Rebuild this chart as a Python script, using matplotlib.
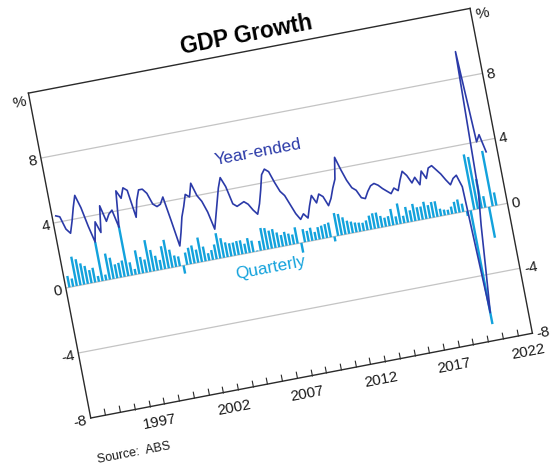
import numpy as np
import matplotlib
matplotlib.use("Agg")
import matplotlib.pyplot as plt
from matplotlib.transforms import Affine2D
import mpl_toolkits.axisartist.floating_axes as floating_axes
from mpl_toolkits.axisartist.grid_finder import FixedLocator

plt.rcParams['font.family'] = ['Liberation Sans', 'DejaVu Sans']

# ---------------- data ----------------
start_year = 1993  # first observation = March quarter 1993
quarterly = [
    0.7, 0.5, 1.8, 1.6,      # 1993
    1.3, 1.1, 0.8, 0.9,      # 1994
    0.35, 2.4, 0.35, 1.6,    # 1995
    1.3, 0.85, 0.9, 1.0,     # 1996
    3.1, 0.8, 0.35, 1.45,    # 1997
    1.0, 0.8, 1.95, 1.3,     # 1998
    0.9, 0.6, 1.4, 1.75,     # 1999
    1.1, 0.7, 0.6, -0.5,     # 2000
    0.75, 1.0, 1.1, 0.8,     # 2001
    1.5, 0.9, 0.45, 0.6,     # 2002
    0.9, 1.55, 1.2, 0.9,     # 2003
    0.8, 0.8, 0.85, 0.85,    # 2004
    0.6, 0.9, 0.7, 0.05,     # 2005
    0.6, 1.35, 1.3, 1.1,     # 2006
    1.15, 0.9, 0.7, 0.85,    # 2007
    0.7, 0.6, 1.0, -0.6,     # 2008
    0.8, 0.65, 0.8, 0.5,     # 2009
    0.75, 0.8, 0.85, 0.9,    # 2010
    -0.3, 1.4, 1.3, 1.05,    # 2011
    0.8, 0.7, 0.6, 0.55,     # 2012
    0.5, 0.6, 0.85, 0.95,    # 2013
    0.95, 0.7, 0.55, 0.6,    # 2014
    1.0, 0.5, 1.25, 0.45,    # 2015
    0.95, 0.7, 1.05, 0.8,    # 2016
    0.8, 1.05, 0.8, 0.95,    # 2017
    0.95, 0.45, 0.35, 0.3,   # 2018
    0.45, 0.7, 0.8, 0.5,     # 2019
    -0.3, -7.0, 3.4, 3.2,    # 2020
    1.8, 0.7, -1.9, 3.4,     # 2021
    0.8,                     # 2022
]
year_ended = [
    4.4, 4.3, 3.5, 3.2,
    3.9, 4.7, 5.4, 4.6,
    3.4, 2.4, 3.6, 2.9,
    4.5, 3.5, 3.9, 4.1,
    3.0, 5.2, 4.7, 5.3,
    5.1, 3.4, 4.4, 5.0,
    5.0, 4.7, 4.0, 3.8,
    3.9, 4.3, 2.8, 1.2,
    2.0, 2.9, 3.5, 4.2,
    4.0, 4.8, 4.0, 3.6,
    2.9, 1.8, 2.6, 3.4,
    4.2, 4.8, 4.2, 3.1,
    2.9, 3.0, 3.1, 2.9,
    2.5, 2.2, 2.8, 3.6,
    4.5, 4.8, 4.6, 3.9,
    3.3, 3.0, 2.4, 1.8,
    1.4, 1.7, 1.4, 2.1,
    2.7, 2.2, 2.7, 2.5,
    1.9, 2.3, 2.9, 3.4,
    4.7, 3.9, 3.2, 2.7,
    2.5, 2.0, 1.9, 2.3,
    2.6, 2.7, 2.55, 2.3,
    2.1, 1.9, 2.2, 2.0,
    2.6, 3.1, 2.8, 2.3,
    2.6, 2.1, 2.9, 2.4,
    3.0, 3.1, 2.8, 2.5,
    2.1, 1.75, 2.1, 2.25,
    1.5, -6.3, -3.7, -1.0,
    1.1, 9.6, 4.0, 4.4,
    3.3,
]
x_range = (1993, 2023)
y_range = (-8, 12)
x_tick_years = list(range(1994, 2023))
x_label_years = [1997, 2002, 2007, 2012, 2017, 2022]
y_ticks = [-8, -4, 0, 4, 8]
y_unit = '%'
title = 'GDP Growth'
series_names = ['Year-ended', 'Quarterly']
source = 'Source:  ABS'

# ---------------- styling / layout ----------------
C_YE = '#2b3aa8'
C_Q = '#13a2dc'
ANGLE = 10.86
XS, YS = 14.99, 16.54
W, H = 554, 470

fig = plt.figure(figsize=(W / 100, H / 100), dpi=100, facecolor='white')
tr = Affine2D().scale(XS, YS).rotate_deg(ANGLE)
gh = floating_axes.GridHelperCurveLinear(
    tr, extremes=(x_range[0], x_range[1], y_range[0], y_range[1]),
    grid_locator1=FixedLocator(x_tick_years),
    grid_locator2=FixedLocator(y_ticks + [y_range[1]]))

corners = tr.transform([(x_range[0], y_range[0]), (x_range[1], y_range[0]),
                        (x_range[1], y_range[1]), (x_range[0], y_range[1])])
bw = (corners[:, 0].max() - corners[:, 0].min()) * 1.02
bh = (corners[:, 1].max() - corners[:, 1].min()) * 1.02
cx, cy = 280.4, H - 213.2
ax = fig.add_axes([(cx - bw / 2) / W, (cy - bh / 2) / H, bw / W, bh / H],
                  axes_class=floating_axes.FloatingAxes, grid_helper=gh)

for side in ['left', 'right', 'top', 'bottom']:
    a = ax.axis[side]
    a.line.set_linewidth(1.0)
    a.line.set_color('#2a2a2a')
    a.major_ticklabels.set_visible(False)
    a.label.set_visible(False)
    a.major_ticks.set_visible(side == 'bottom')
ax.axis['bottom'].major_ticks.set_ticksize(5)
ax.axis['bottom'].major_ticks.set_tick_out(False)
ax.axis['bottom'].major_ticks.set_color('#2a2a2a')
ax.grid(True, axis='y', color='#c4c4c4', linewidth=0.9)
ax.gridlines.set_zorder(0.5)

aux = ax.get_aux_axes(tr)
n = len(quarterly)
qx = start_year + 0.25 * np.arange(1, n + 1)
aux.bar(qx, quarterly, width=0.16, color=C_Q, linewidth=0, zorder=2)
aux.plot(qx, year_ended, color=C_YE, linewidth=1.2, zorder=3)

th = np.deg2rad(ANGLE)


def rot(dx, dy):
    return (dx * np.cos(th) - dy * np.sin(th), dx * np.sin(th) + dy * np.cos(th))


def label(x, y, s, dx, dy, **kw):
    aux.annotate(s, (x, y), xytext=rot(dx, dy), textcoords='offset pixels',
                 rotation=ANGLE, rotation_mode='anchor', annotation_clip=False, **kw)


TICK_FS = 11
for v in y_ticks:
    label(x_range[0], v, str(v), -4, -2, ha='right', va='center', fontsize=TICK_FS, color='#1a1a1a')
    label(x_range[1], v, str(v), 4, -2, ha='left', va='center', fontsize=TICK_FS, color='#1a1a1a')
label(x_range[0], y_range[1], y_unit, -4, -8, ha='right', va='center', fontsize=TICK_FS, color='#1a1a1a')
label(x_range[1], y_range[1], y_unit, 4, -8, ha='left', va='center', fontsize=TICK_FS, color='#1a1a1a')
for yr in x_label_years:
    label(yr + 0.5, y_range[0], str(yr), 0, -17, ha='center', va='center', fontsize=TICK_FS, color='#1a1a1a')

label(2008, y_range[1], title, 0, 16.5, ha='center', va='center', fontsize=16.3, fontweight='bold', color='black')
label(2007.3, 5.9, series_names[0], 0, 0, ha='center', va='center', fontsize=12.3, color=C_YE)
label(2006.7, -1.15, series_names[1], 0, 0, ha='center', va='center', fontsize=12.3, color=C_Q)
label(x_range[0], y_range[0], source, -1.4, -45.9, ha='left', va='baseline', fontsize=9, color='#1a1a1a')

fig.savefig('out.png', dpi=100, facecolor='white')
